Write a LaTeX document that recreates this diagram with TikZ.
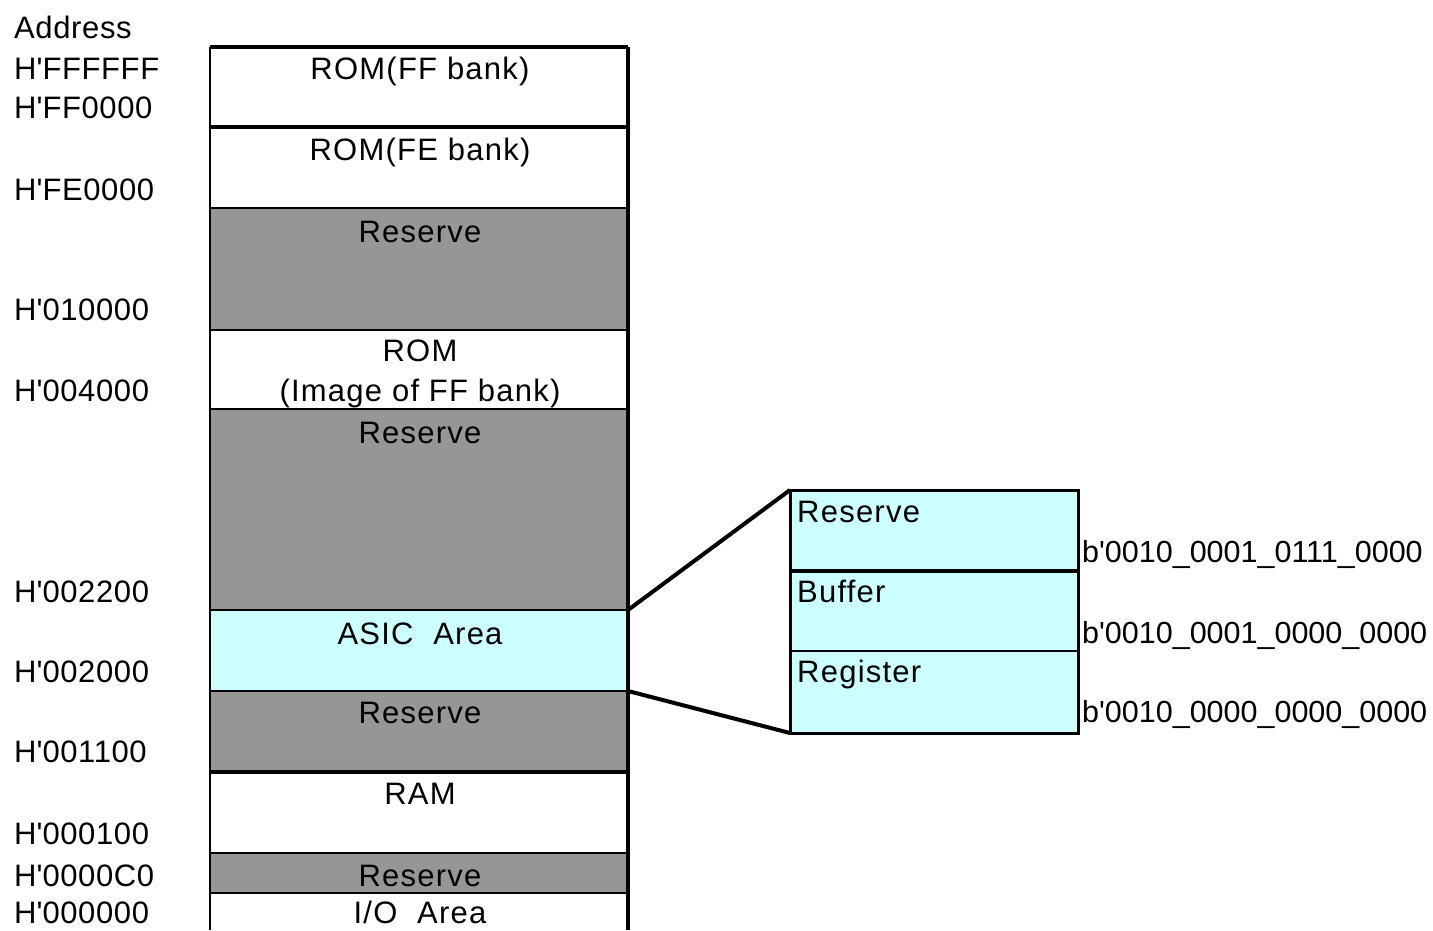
\documentclass[tikz,border=0pt]{standalone}
\usepackage{fontspec}
\setmainfont{Liberation Sans}
\newcommand{\apo}{\textquotesingle}
\begin{document}
\begin{tikzpicture}[x=1pt,y=-1pt,
  region/.style={anchor=north west,inner sep=0pt,outer sep=0pt,minimum width=418pt},
  gray/.style={region,fill=resgray},
  white/.style={region,fill=white},
  cyan/.style={region,fill=asiccyan},
  lbl/.style={anchor=base west,inner sep=0pt,font=\fontsize{31}{36}\selectfont\addfontfeature{LetterSpace=2}},
  blbl/.style={anchor=base west,inner sep=0pt,font=\fontsize{30.5}{36}\selectfont},
  txt/.style={anchor=base,inner sep=0pt,font=\fontsize{31}{36}\selectfont\addfontfeature{LetterSpace=4}},
  ltxt/.style={anchor=base west,inner sep=0pt,font=\fontsize{31}{36}\selectfont\addfontfeature{LetterSpace=4}},
  thick line/.style={line width=3.5pt},
  mid line/.style={line width=2.5pt},
  thin line/.style={line width=2pt}]
\definecolor{resgray}{HTML}{969696}
\definecolor{asiccyan}{HTML}{CCFFFF}
\useasboundingbox (0,0) rectangle (1433,930);
\fill[white] (0,0) rectangle (1433,930);
% main column regions
\node[white,minimum height=80pt] (r1) at (210,47) {};
\node[white,minimum height=81pt] (r2) at (210,127) {};
\node[gray,minimum height=122pt] (r3) at (210,208) {};
\node[white,minimum height=79pt] (r4) at (210,330) {};
\node[gray,minimum height=201pt] (r5) at (210,409) {};
\node[cyan,minimum height=81pt] (r6) at (210,610) {};
\node[gray,minimum height=81pt] (r7) at (210,691) {};
\node[white,minimum height=81pt] (r8) at (210,772) {};
\node[gray,minimum height=40pt] (r9) at (210,853) {};
\node[white,minimum height=37pt] (r10) at (210,893) {};
% separators
\draw[thick line] (r1.north west) -- (r1.north east);
\draw[thick line] (r1.south west) -- (r1.south east);
\draw[mid line] (r2.south west) -- (r2.south east);
\draw[mid line] (r3.south west) -- (r3.south east);
\draw[mid line] (r4.south west) -- (r4.south east);
\draw[thin line] (r5.south west) -- (r5.south east);
\draw[thin line] (r6.south west) -- (r6.south east);
\draw[thick line] (r7.south west) -- (r7.south east);
\draw[mid line] (r8.south west) -- (r8.south east);
\draw[mid line] (r9.south west) -- (r9.south east);
\draw[mid line] (r1.north west) -- (r10.south west);
\draw[line width=3.5pt] (r1.north east) -- (r10.south east);
% main column texts
\node[txt] (t1) at (420,79) {ROM(FF bank)};
\node[txt] (t2) at (420,160) {ROM(FE bank)};
\node[txt] (t3) at (420,242) {Reserve};
\node[txt] (t4a) at (420,361) {ROM};
\node[txt] (t4b) at (420,401) {(Image of FF bank)};
\node[txt] (t5) at (420,443) {Reserve};
\node[txt] (t6) at (420,644) {ASIC\ \ Area};
\node[txt] (t7) at (420,723) {Reserve};
\node[txt] (t8) at (420,804) {RAM};
\node[txt] (t9) at (420,886) {Reserve};
\node[txt] (t10) at (420,923) {I/O\ \ Area};
% address labels
\node[lbl] (a0) at (14,38) {Address};
\node[lbl] (a1) at (14,79) {H\apo FFFFFF};
\node[lbl] (a2) at (14,118) {H\apo FF0000};
\node[lbl] (a3) at (14,200) {H\apo FE0000};
\node[lbl] (a4) at (14,320) {H\apo 010000};
\node[lbl] (a5) at (14,401) {H\apo 004000};
\node[lbl] (a6) at (14,602) {H\apo 002200};
\node[lbl] (a7) at (14,682) {H\apo 002000};
\node[lbl] (a8) at (14,762) {H\apo 001100};
\node[lbl] (a9) at (14,844) {H\apo 000100};
\node[lbl] (a10) at (14,886) {H\apo 0000C0};
\node[lbl] (a11) at (14,923) {H\apo 000000};
% zoom box
\node[cyan,minimum width=288pt,minimum height=81pt] (z1) at (790,490) {};
\node[cyan,minimum width=288pt,minimum height=80pt] (z2) at (790,571) {};
\node[cyan,minimum width=288pt,minimum height=82pt] (z3) at (790,651) {};
\draw[line width=3pt] (z1.north west) rectangle (z3.south east);
\draw[thick line] (z1.south west) -- (z1.south east);
\draw[thin line] (z2.south west) -- (z2.south east);
\node[ltxt] (zt1) at (797,522) {Reserve};
\node[ltxt] (zt2) at (797,602) {Buffer};
\node[ltxt] (zt3) at (797,682) {Register};
% binary labels
\node[blbl] (b1) at (1082,562) {b\apo 0010\_0001\_0111\_0000};
\node[blbl] (b2) at (1082,643) {b\apo 0010\_0001\_0000\_0000};
\node[blbl] (b3) at (1082,722) {b\apo 0010\_0000\_0000\_0000};
% connectors
\draw[line width=4pt] (r6.north east) -- (z1.north west);
\draw[line width=4pt] (r6.south east) -- (z3.south west);
\end{tikzpicture}
\end{document}
